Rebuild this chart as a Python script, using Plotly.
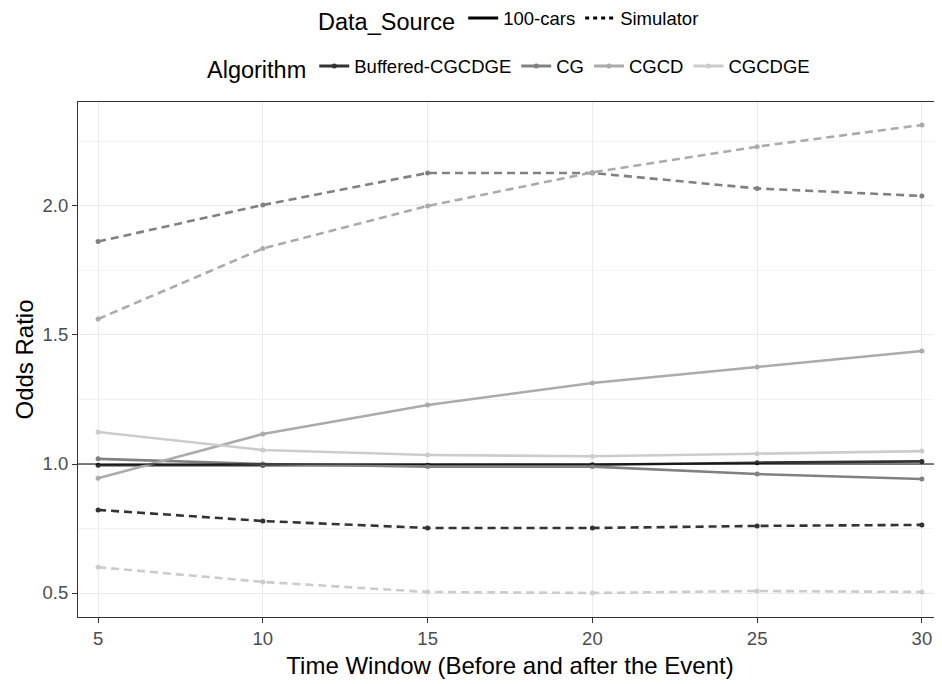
import plotly.graph_objects as go

time_window = [5, 10, 15, 20, 25, 30]
algorithms = ["Buffered-CGCDGE", "CG", "CGCD", "CGCDGE"]
algo_colors = ["#333333", "#818181", "#ABABAB", "#CCCCCC"]

cars_buffered = [0.995, 0.995, 0.995, 0.997, 1.005, 1.01]
cars_cg = [1.02, 1.0, 0.99, 0.99, 0.961, 0.942]
cars_cgcd = [0.945, 1.116, 1.229, 1.314, 1.376, 1.438]
cars_cgcdge = [1.124, 1.054, 1.035, 1.03, 1.04, 1.05]

sim_buffered = [0.822, 0.779, 0.752, 0.752, 0.76, 0.764]
sim_cg = [1.862, 2.004, 2.128, 2.128, 2.068, 2.039]
sim_cgcd = [1.562, 1.835, 2.0, 2.13, 2.23, 2.314]
sim_cgcdge = [0.60, 0.543, 0.504, 0.5, 0.508, 0.504]

cars = [cars_buffered, cars_cg, cars_cgcd, cars_cgcdge]
sim = [sim_buffered, sim_cg, sim_cgcd, sim_cgcdge]

y_ticks = [0.5, 1.0, 1.5, 2.0]
x_ticks = [5, 10, 15, 20, 25, 30]

FONT = "Liberation Sans, Arial, sans-serif"
DASH = "8px,5px"

# the page body adds an 8px offset; compensate in the figure size
W, H = 934, 676

fig = go.Figure()

for name, col, yc, ys in zip(algorithms, algo_colors, cars, sim):
    fig.add_trace(go.Scatter(x=time_window, y=yc, mode="lines+markers",
                             line=dict(color=col, width=2.6),
                             marker=dict(color=col, size=5),
                             showlegend=False, hoverinfo="x+y", name=name))
    fig.add_trace(go.Scatter(x=time_window, y=ys, mode="lines+markers",
                             line=dict(color=col, width=2.6, dash=DASH),
                             marker=dict(color=col, size=5),
                             showlegend=False, hoverinfo="x+y", name=name))

# Legend: Data_Source
fig.add_trace(go.Scatter(x=[None], y=[None], mode="lines", name="100-cars",
                         line=dict(color="black", width=3), legend="legend"))
fig.add_trace(go.Scatter(x=[None], y=[None], mode="lines", name="Simulator",
                         line=dict(color="black", width=3, dash="4px,4px"), legend="legend"))
# Legend: Algorithm
for name, col in zip(algorithms, algo_colors):
    fig.add_trace(go.Scatter(x=[None], y=[None], mode="lines+markers", name=name,
                             line=dict(color=col, width=3), marker=dict(color=col, size=5),
                             legend="legend2"))

fig.add_hline(y=1.0, line=dict(color="black", width=1))

fig.update_layout(
    width=W, height=H,
    margin=dict(l=70, r=0, t=94, b=67),
    plot_bgcolor="white", paper_bgcolor="white",
    font=dict(family=FONT, color="black"),
    legend=dict(orientation="h", x=0.5, xanchor="center", xref="paper",
                y=1 - 12 / H, yref="container", yanchor="middle",
                title=dict(text="Data_Source", font=dict(size=23.5)),
                font=dict(size=18.5), itemwidth=30, tracegroupgap=0),
    legend2=dict(orientation="h", x=0.5, xanchor="center", xref="paper",
                 y=1 - 60 / H, yref="container", yanchor="middle",
                 title=dict(text="Algorithm", font=dict(size=23.5)),
                 font=dict(size=18.5), itemwidth=30),
    xaxis=dict(range=[4.39, 30.61], tickvals=x_ticks, ticktext=[str(v) for v in x_ticks],
               showgrid=True, gridcolor="#EBEBEB", gridwidth=1,
               zeroline=False, showline=True, linecolor="#333333", linewidth=1, mirror=True,
               ticks="outside", ticklen=5, tickcolor="#333333",
               tickfont=dict(size=18.5, color="#4D4D4D"),
               title=dict(text="Time Window (Before and after the Event)", font=dict(size=24), standoff=8)),
    yaxis=dict(range=[0.407, 2.403], tickvals=y_ticks, tickformat=".1f",
               showgrid=True, gridcolor="#EBEBEB", gridwidth=1,
               minor=dict(dtick=0.25, tick0=0.25, showgrid=True, gridcolor="#F3F3F3", gridwidth=1),
               zeroline=False, showline=True, linecolor="#333333", linewidth=1, mirror=True,
               ticks="outside", ticklen=5, tickcolor="#333333",
               tickfont=dict(size=18.5, color="#4D4D4D"),
               title=dict(text="Odds Ratio", font=dict(size=24), standoff=2)),
)

fig.write_html("out.html")
